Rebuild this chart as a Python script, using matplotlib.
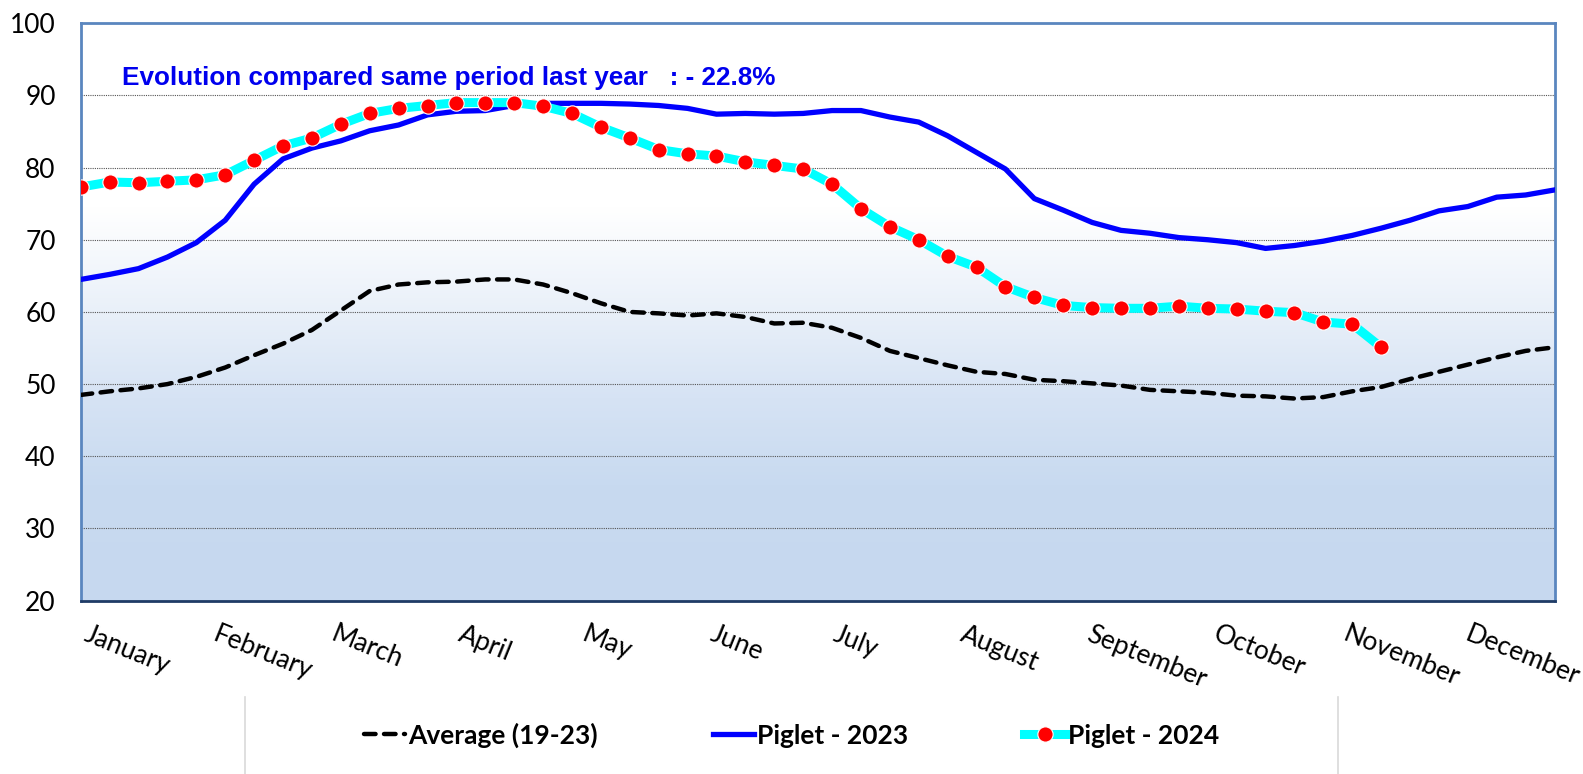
import numpy as np
import matplotlib
matplotlib.use("Agg")
import matplotlib.pyplot as plt
from matplotlib.colors import LinearSegmentedColormap
from matplotlib.lines import Line2D

# weekly piglet price data
weeks = list(range(1, 53))

average_19_23 = [48.5, 49.0, 49.4, 50.0, 51.0, 52.3, 54.0, 55.6, 57.5, 60.2,
                 62.9, 63.8, 64.1, 64.2, 64.5, 64.5, 63.8, 62.6, 61.2, 60.0,
                 59.8, 59.5, 59.8, 59.3, 58.4, 58.5, 57.8, 56.4, 54.6, 53.6,
                 52.6, 51.7, 51.4, 50.6, 50.4, 50.1, 49.8, 49.2, 49.0, 48.8,
                 48.4, 48.3, 48.0, 48.2, 49.0, 49.6, 50.7, 51.7, 52.7, 53.7,
                 54.6, 55.1]

piglet_2023 = [64.5, 65.2, 66.0, 67.6, 69.6, 72.7, 77.7, 81.2, 82.7, 83.7,
               85.1, 85.9, 87.3, 87.8, 87.9, 88.6, 88.9, 88.9, 88.9, 88.8,
               88.6, 88.2, 87.4, 87.5, 87.4, 87.5, 87.9, 87.9, 87.0, 86.3,
               84.4, 82.1, 79.8, 75.7, 74.1, 72.4, 71.3, 70.9, 70.3, 70.0,
               69.6, 68.8, 69.2, 69.8, 70.6, 71.6, 72.7, 74.0, 74.6, 75.9,
               76.2, 76.9]

piglet_2024 = [77.3, 78.0, 77.9, 78.1, 78.3, 79.0, 81.0, 83.0, 84.1, 86.0,
               87.5, 88.2, 88.6, 89.0, 89.0, 89.0, 88.5, 87.5, 85.6, 84.1,
               82.5, 81.9, 81.6, 80.8, 80.3, 79.8, 77.7, 74.3, 71.8, 70.0,
               67.7, 66.2, 63.5, 62.0, 60.9, 60.6, 60.5, 60.5, 60.8, 60.5,
               60.4, 60.1, 59.9, 58.6, 58.3, 55.1]

months = ["January", "February", "March", "April", "May", "June", "July",
          "August", "September", "October", "November", "December"]
month_pos = [2.6, 7.3, 10.9, 15.0, 19.2, 23.7, 27.8, 32.8, 37.9, 41.8, 46.7, 50.9]

evolution_text = "Evolution compared same period last year   : - 22.8%"

fig = plt.figure(figsize=(15.83, 7.74), dpi=100, facecolor="white")
ax = fig.add_axes([0.051, 0.224, 0.931, 0.746])

# gradient background (white on top, light blue at bottom)
bg = LinearSegmentedColormap.from_list(
    "bg", [(0.0, "#c6d8ef"), (0.2, "#c8daf0"), (0.35, "#d6e3f4"),
           (0.5, "#e9f0f9"), (0.68, "#ffffff"), (1.0, "#ffffff")])
grad = np.linspace(0, 1, 256).reshape(-1, 1)
ax.imshow(grad, cmap=bg, origin="lower", aspect="auto",
          extent=[1, 52, 20, 100], zorder=0)

ax.plot(weeks, average_19_23, color="black", lw=3.2, dashes=(2.6, 1.9),
        dash_capstyle="round", zorder=3, label="Average (19-23)")
ax.plot(weeks, piglet_2023, color="#0000ff", lw=3.8, zorder=4,
        label="Piglet - 2023")
ax.plot(weeks[:len(piglet_2024)], piglet_2024, color="#00ffff", lw=6.5,
        marker="o", markersize=11, markerfacecolor="#ff0000",
        markeredgecolor="white", markeredgewidth=0.8, zorder=5,
        label="Piglet - 2024")

ax.set_xlim(1, 52)
ax.set_ylim(20, 100)
ax.set_yticks(range(20, 101, 10))
ax.tick_params(axis="both", length=0)
ax.tick_params(axis="y", labelsize=19, pad=18)
for lab in ax.get_yticklabels():
    lab.set_fontfamily("Lato")

ax.set_xticks(month_pos)
ax.set_xticklabels(months, rotation=-22, ha="center", fontsize=19,
                   fontfamily="Lato")
ax.tick_params(axis="x", pad=15)

for y in range(30, 100, 10):
    ax.axhline(y, color="#555555", lw=0.8, ls=(0, (1, 1)), zorder=1)

for side in ["top", "left", "right"]:
    ax.spines[side].set_color("#5a86bf")
    ax.spines[side].set_linewidth(2)
ax.spines["bottom"].set_color("#1f3b66")
ax.spines["bottom"].set_linewidth(2)

ax.text(0.028, 0.905, evolution_text, transform=ax.transAxes, color="#0000ee",
        fontsize=18.8, fontweight="bold", fontfamily="Liberation Sans",
        va="center", ha="left", zorder=6)

leg = fig.legend(loc="center", bbox_to_anchor=(0.5, 0.05), ncol=3,
                 frameon=False, handlelength=1.55, handletextpad=0.1,
                 columnspacing=4.4,
                 prop={"family": "Lato", "weight": "bold", "size": 19})

# faint legend box sides
fig.add_artist(Line2D([0.155, 0.155], [0.0, 0.1], color="#d9d9d9", lw=1.2))
fig.add_artist(Line2D([0.845, 0.845], [0.0, 0.1], color="#d9d9d9", lw=1.2))

fig.savefig("out.png", dpi=100, facecolor="white")
